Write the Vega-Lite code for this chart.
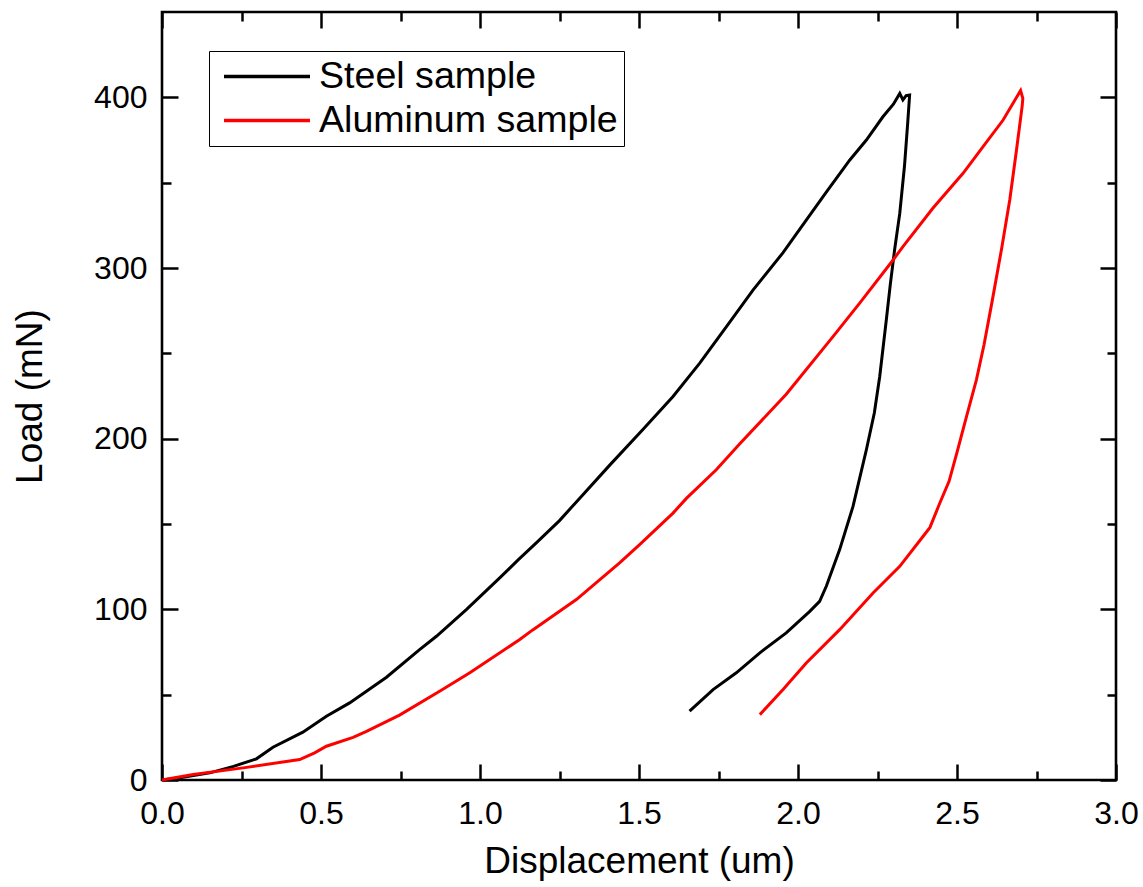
{
  "$schema": "https://vega.github.io/schema/vega-lite/v6.json",
  "autosize": "none",
  "width": 954,
  "height": 768,
  "padding": {"left": 162, "top": 12, "right": 27, "bottom": 107},
  "background": "white",
  "config": {
    "font": "Liberation Sans",
    "view": {"stroke": "black", "strokeWidth": 2.6},
    "axis": {"grid": false, "domain": false, "tickColor": "black", "tickWidth": 2.5, "labelColor": "black", "titleColor": "black", "titleFontWeight": "normal", "labelFlush": false, "labelOverlap": false}
  },
  "data": {"values": [
    {"sample":"Steel sample","idx":0,"displacement":0,"load":0},
    {"sample":"Steel sample","idx":1,"displacement":0.056,"load":1.3},
    {"sample":"Steel sample","idx":2,"displacement":0.15,"load":4.2},
    {"sample":"Steel sample","idx":3,"displacement":0.225,"load":8.0},
    {"sample":"Steel sample","idx":4,"displacement":0.297,"load":12.4},
    {"sample":"Steel sample","idx":5,"displacement":0.349,"load":19.2},
    {"sample":"Steel sample","idx":6,"displacement":0.443,"load":28.0},
    {"sample":"Steel sample","idx":7,"displacement":0.517,"load":37.4},
    {"sample":"Steel sample","idx":8,"displacement":0.59,"load":45.2},
    {"sample":"Steel sample","idx":9,"displacement":0.706,"load":60.2},
    {"sample":"Steel sample","idx":10,"displacement":0.81,"load":76.4},
    {"sample":"Steel sample","idx":11,"displacement":0.863,"load":84.2},
    {"sample":"Steel sample","idx":12,"displacement":0.957,"load":99.8},
    {"sample":"Steel sample","idx":13,"displacement":1.062,"load":118.4},
    {"sample":"Steel sample","idx":14,"displacement":1.12,"load":129.0},
    {"sample":"Steel sample","idx":15,"displacement":1.177,"load":138.9},
    {"sample":"Steel sample","idx":16,"displacement":1.25,"load":152.0},
    {"sample":"Steel sample","idx":17,"displacement":1.313,"load":165.0},
    {"sample":"Steel sample","idx":18,"displacement":1.408,"load":184.5},
    {"sample":"Steel sample","idx":19,"displacement":1.513,"load":205.5},
    {"sample":"Steel sample","idx":20,"displacement":1.607,"load":224.7},
    {"sample":"Steel sample","idx":21,"displacement":1.691,"load":244.3},
    {"sample":"Steel sample","idx":22,"displacement":1.775,"load":265.7},
    {"sample":"Steel sample","idx":23,"displacement":1.859,"load":287.2},
    {"sample":"Steel sample","idx":24,"displacement":1.953,"load":309.0},
    {"sample":"Steel sample","idx":25,"displacement":1.995,"load":320.0},
    {"sample":"Steel sample","idx":26,"displacement":2.089,"load":344.5},
    {"sample":"Steel sample","idx":27,"displacement":2.163,"load":363.3},
    {"sample":"Steel sample","idx":28,"displacement":2.215,"load":375.0},
    {"sample":"Steel sample","idx":29,"displacement":2.267,"load":388.6},
    {"sample":"Steel sample","idx":30,"displacement":2.3,"load":396.0},
    {"sample":"Steel sample","idx":31,"displacement":2.32,"load":402.3},
    {"sample":"Steel sample","idx":32,"displacement":2.33,"load":398.5},
    {"sample":"Steel sample","idx":33,"displacement":2.34,"load":401.0},
    {"sample":"Steel sample","idx":34,"displacement":2.351,"load":401.3},
    {"sample":"Steel sample","idx":35,"displacement":2.345,"load":385.0},
    {"sample":"Steel sample","idx":36,"displacement":2.335,"load":360.0},
    {"sample":"Steel sample","idx":37,"displacement":2.32,"load":332.0},
    {"sample":"Steel sample","idx":38,"displacement":2.304,"load":311.0},
    {"sample":"Steel sample","idx":39,"displacement":2.29,"load":290.0},
    {"sample":"Steel sample","idx":40,"displacement":2.278,"load":270.0},
    {"sample":"Steel sample","idx":41,"displacement":2.257,"load":236.4},
    {"sample":"Steel sample","idx":42,"displacement":2.24,"load":215.0},
    {"sample":"Steel sample","idx":43,"displacement":2.215,"load":193.5},
    {"sample":"Steel sample","idx":44,"displacement":2.173,"load":160.3},
    {"sample":"Steel sample","idx":45,"displacement":2.131,"load":135.0},
    {"sample":"Steel sample","idx":46,"displacement":2.089,"load":113.5},
    {"sample":"Steel sample","idx":47,"displacement":2.068,"load":104.7},
    {"sample":"Steel sample","idx":48,"displacement":2.037,"load":98.8},
    {"sample":"Steel sample","idx":49,"displacement":1.963,"load":86.2},
    {"sample":"Steel sample","idx":50,"displacement":1.88,"load":74.5},
    {"sample":"Steel sample","idx":51,"displacement":1.806,"load":62.8},
    {"sample":"Steel sample","idx":52,"displacement":1.733,"load":53.0},
    {"sample":"Steel sample","idx":53,"displacement":1.659,"load":40.3},
    {"sample":"Aluminum sample","idx":0,"displacement":0,"load":0},
    {"sample":"Aluminum sample","idx":1,"displacement":0.098,"load":3.2},
    {"sample":"Aluminum sample","idx":2,"displacement":0.255,"load":7.1},
    {"sample":"Aluminum sample","idx":3,"displacement":0.433,"load":12.0},
    {"sample":"Aluminum sample","idx":4,"displacement":0.48,"load":15.9},
    {"sample":"Aluminum sample","idx":5,"displacement":0.517,"load":19.8},
    {"sample":"Aluminum sample","idx":6,"displacement":0.601,"load":25.0},
    {"sample":"Aluminum sample","idx":7,"displacement":0.643,"load":28.5},
    {"sample":"Aluminum sample","idx":8,"displacement":0.747,"load":38.0},
    {"sample":"Aluminum sample","idx":9,"displacement":0.873,"load":52.0},
    {"sample":"Aluminum sample","idx":10,"displacement":0.968,"load":62.8},
    {"sample":"Aluminum sample","idx":11,"displacement":1.125,"load":82.3},
    {"sample":"Aluminum sample","idx":12,"displacement":1.167,"load":88.1},
    {"sample":"Aluminum sample","idx":13,"displacement":1.303,"load":105.7},
    {"sample":"Aluminum sample","idx":14,"displacement":1.439,"load":127.2},
    {"sample":"Aluminum sample","idx":15,"displacement":1.502,"load":137.9},
    {"sample":"Aluminum sample","idx":16,"displacement":1.607,"load":156.4},
    {"sample":"Aluminum sample","idx":17,"displacement":1.649,"load":165.0},
    {"sample":"Aluminum sample","idx":18,"displacement":1.743,"load":181.8},
    {"sample":"Aluminum sample","idx":19,"displacement":1.817,"load":197.0},
    {"sample":"Aluminum sample","idx":20,"displacement":1.963,"load":226.0},
    {"sample":"Aluminum sample","idx":21,"displacement":2.11,"load":259.8},
    {"sample":"Aluminum sample","idx":22,"displacement":2.194,"load":279.4},
    {"sample":"Aluminum sample","idx":23,"displacement":2.299,"load":304.7},
    {"sample":"Aluminum sample","idx":24,"displacement":2.33,"load":312.5},
    {"sample":"Aluminum sample","idx":25,"displacement":2.424,"load":335.0},
    {"sample":"Aluminum sample","idx":26,"displacement":2.519,"load":355.5},
    {"sample":"Aluminum sample","idx":27,"displacement":2.582,"load":371.1},
    {"sample":"Aluminum sample","idx":28,"displacement":2.645,"load":386.7},
    {"sample":"Aluminum sample","idx":29,"displacement":2.7,"load":404.0},
    {"sample":"Aluminum sample","idx":30,"displacement":2.707,"load":399.4},
    {"sample":"Aluminum sample","idx":31,"displacement":2.705,"load":395.0},
    {"sample":"Aluminum sample","idx":32,"displacement":2.687,"load":369.0},
    {"sample":"Aluminum sample","idx":33,"displacement":2.666,"load":340.0},
    {"sample":"Aluminum sample","idx":34,"displacement":2.64,"load":311.0},
    {"sample":"Aluminum sample","idx":35,"displacement":2.61,"load":280.0},
    {"sample":"Aluminum sample","idx":36,"displacement":2.585,"load":255.0},
    {"sample":"Aluminum sample","idx":37,"displacement":2.561,"load":234.5},
    {"sample":"Aluminum sample","idx":38,"displacement":2.53,"load":213.0},
    {"sample":"Aluminum sample","idx":39,"displacement":2.5,"load":192.0},
    {"sample":"Aluminum sample","idx":40,"displacement":2.475,"load":175.0},
    {"sample":"Aluminum sample","idx":41,"displacement":2.446,"load":162.3},
    {"sample":"Aluminum sample","idx":42,"displacement":2.415,"load":148.0},
    {"sample":"Aluminum sample","idx":43,"displacement":2.393,"load":142.7},
    {"sample":"Aluminum sample","idx":44,"displacement":2.32,"load":125.2},
    {"sample":"Aluminum sample","idx":45,"displacement":2.236,"load":109.6},
    {"sample":"Aluminum sample","idx":46,"displacement":2.131,"load":88.1},
    {"sample":"Aluminum sample","idx":47,"displacement":2.026,"load":68.6},
    {"sample":"Aluminum sample","idx":48,"displacement":1.953,"load":53.0},
    {"sample":"Aluminum sample","idx":49,"displacement":1.88,"load":38.3}
  ]},
  "layer": [
    {
      "mark": {"type": "line", "strokeWidth": 3},
      "encoding": {
        "x": {"field": "displacement", "type": "quantitative", "scale": {"domain": [0, 3], "nice": false, "zero": false},
          "axis": {"orient": "bottom", "values": [0, 0.5, 1, 1.5, 2, 2.5, 3], "format": ".1f", "tickSize": -16, "labelFontSize": 32, "labelPadding": 34, "title": "Displacement (um)", "titleFontSize": 37, "titlePadding": 14}},
        "y": {"field": "load", "type": "quantitative", "scale": {"domain": [0, 450], "nice": false, "zero": false},
          "axis": {"orient": "left", "values": [0, 100, 200, 300, 400], "format": "d", "tickSize": -16, "labelFontSize": 32, "labelPadding": 31, "title": "Load (mN)", "titleFontSize": 37, "titlePadding": 44}},
        "color": {"field": "sample", "type": "nominal",
          "scale": {"domain": ["Steel sample", "Aluminum sample"], "range": ["#000000", "#ff0000"]},
          "legend": {"orient": "none", "legendX": 47, "legendY": 39, "title": null, "strokeColor": "black", "padding": 6, "symbolType": "M-2.457,0L2.457,0", "symbolSize": 1225, "symbolOffset": 32.5, "symbolStrokeWidth": 3.5, "labelFontSize": 37.6, "labelColor": "black", "labelOffset": 32.5, "labelLimit": 0, "rowPadding": 5, "fillColor": "white"}},
        "order": {"field": "idx", "type": "quantitative"}
      }
    },
    {
      "mark": {"type": "line", "opacity": 0},
      "encoding": {
        "x": {"field": "displacement", "type": "quantitative", "axis": {"orient": "bottom", "values": [0.25, 0.75, 1.25, 1.75, 2.25, 2.75], "tickSize": -9, "labels": false, "title": null}},
        "y": {"field": "load", "type": "quantitative", "axis": {"orient": "left", "values": [50, 150, 250, 350], "tickSize": -9, "labels": false, "title": null}},
        "detail": {"field": "sample"},
        "order": {"field": "idx", "type": "quantitative"}
      }
    },
    {
      "mark": {"type": "line", "opacity": 0},
      "encoding": {
        "x": {"field": "displacement", "type": "quantitative", "axis": {"orient": "top", "values": [0, 0.5, 1, 1.5, 2, 2.5, 3], "tickSize": -16, "labels": false, "title": null}},
        "y": {"field": "load", "type": "quantitative", "axis": {"orient": "right", "values": [0, 100, 200, 300, 400], "tickSize": -16, "labels": false, "title": null}},
        "detail": {"field": "sample"},
        "order": {"field": "idx", "type": "quantitative"}
      }
    },
    {
      "mark": {"type": "line", "opacity": 0},
      "encoding": {
        "x": {"field": "displacement", "type": "quantitative", "axis": {"orient": "top", "values": [0.25, 0.75, 1.25, 1.75, 2.25, 2.75], "tickSize": -9, "labels": false, "title": null}},
        "y": {"field": "load", "type": "quantitative", "axis": {"orient": "right", "values": [50, 150, 250, 350], "tickSize": -9, "labels": false, "title": null}},
        "detail": {"field": "sample"},
        "order": {"field": "idx", "type": "quantitative"}
      }
    }
  ],
  "resolve": {"axis": {"x": "independent", "y": "independent"}}
}
